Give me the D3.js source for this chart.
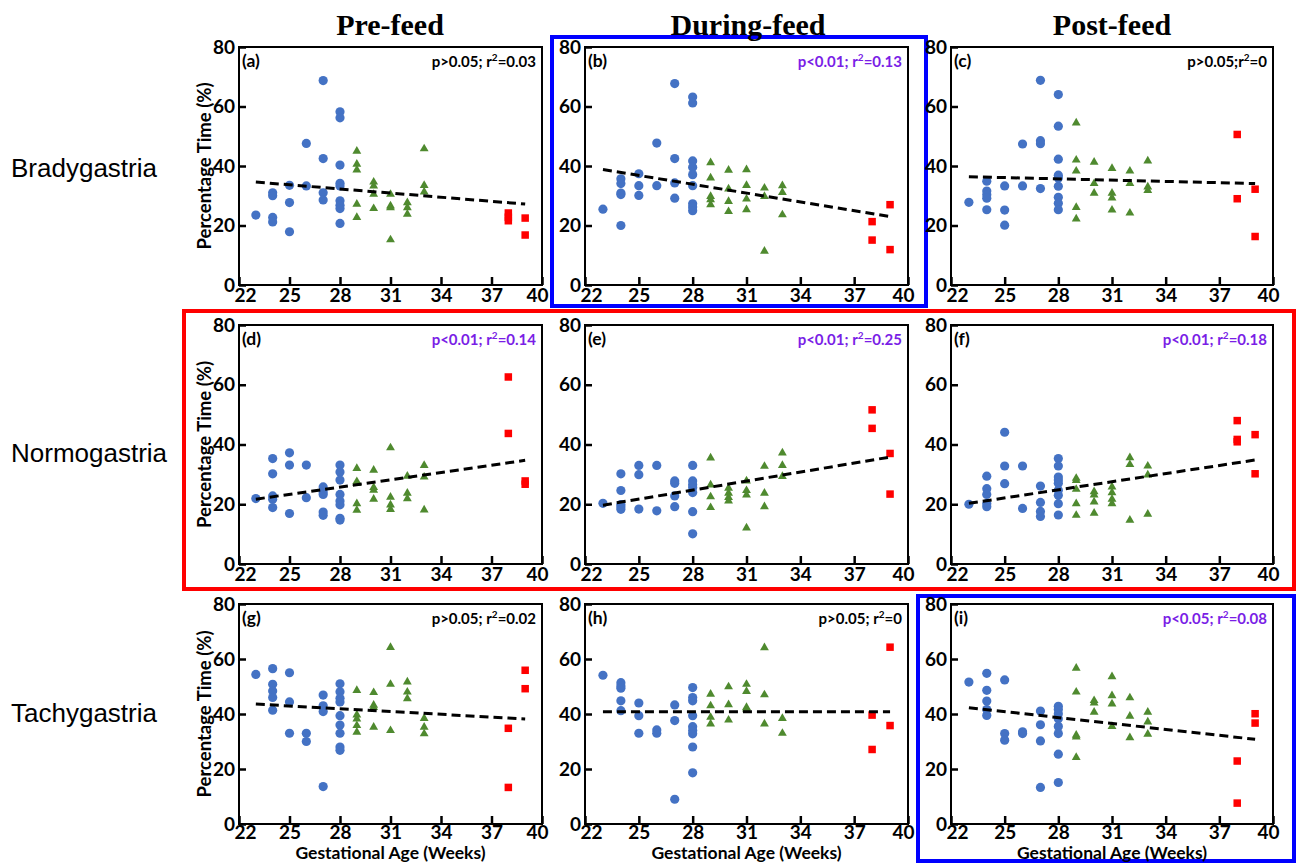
<!DOCTYPE html>
<html>
<head>
<meta charset="utf-8">
<script src="https://cdn.jsdelivr.net/npm/d3@7/dist/d3.min.js"></script>
<style>
  body { margin: 0; background: #fff; }
  svg { display: block; }
</style>
</head>
<body>
<div id="chart"></div>
<script>
// tick labels and titles
const xTicks = [22, 25, 28, 31, 34, 37, 40];
const yTicks = [0, 20, 40, 60, 80];
const columnTitles = ["Pre-feed", "During-feed", "Post-feed"];
const rowTitles = ["Bradygastria", "Normogastria", "Tachygastria"];
const panelLetters = ["(a)", "(b)", "(c)", "(d)", "(e)", "(f)", "(g)", "(h)", "(i)"];
const statP = ["p>0.05; ", "p<0.01; ", "p>0.05;", "p<0.01; ", "p<0.01; ", "p<0.01; ", "p>0.05; ", "p>0.05; ", "p<0.05; "];
const statR2 = ["0.03", "0.13", "0", "0.14", "0.25", "0.18", "0.02", "0", "0.08"];

// regression line values at first and last week
const trendWeeks = [23, 39];
const trendValues = [
  [34.6, 27.2], [38.8, 23.0], [36.4, 34.1],
  [21.7, 34.7], [19.7, 35.8], [20.3, 34.8],
  [43.6, 38.2], [40.8, 40.8], [42.3, 30.8]
];

// [gestational week, % time]
const circlesA = [[23,23.5],[24,31],[24,30],[24,22.7],[24,21.2],[25,33.5],[25,27.7],[25,17.9],[26,47.6],[26,33.3],[27,68.7],[27,42.5],[27,31],[27,28.6],[28,58.2],[28,56.2],[28,40.3],[28,34.2],[28,33.3],[28,28.3],[28,26.8],[28,25.7],[28,20.7]];
const trianglesA = [[29,45],[29,40.6],[29,38.7],[29,27.2],[29,22.7],[30,34.6],[30,33.3],[30,30.5],[30,25.7],[31,30.5],[31,26.6],[31,26],[31,15.2],[32,27.7],[32,26],[32,23.8],[33,45.8],[33,33.5],[33,31.3]];
const squaresA = [[38,24.2],[38,22.8],[38,21.6],[39,22.5],[39,16.8]];

const circlesB = [[23,25.5],[24,35.7],[24,34.1],[24,30.9],[24,30.4],[24,20],[25,37.4],[25,33.4],[25,30.1],[26,47.7],[26,33.4],[27,67.7],[27,42.5],[27,34.3],[27,29.2],[28,63.2],[28,61.2],[28,41.7],[28,39.6],[28,37.1],[28,33.4],[28,27.3],[28,26.2],[28,25]];
const trianglesB = [[29,41.1],[29,36],[29,29.8],[29,28.7],[29,27],[30,38.6],[30,32.3],[30,28.1],[30,24.7],[31,38.8],[31,33.5],[31,28.9],[31,25.3],[32,32.6],[32,29.8],[32,11.4],[33,33.4],[33,31.1],[33,23.6]];
const squaresB = [[38,21.3],[38,15.1],[39,27],[39,11.9]];

const circlesC = [[23,27.8],[24,34.9],[24,31.6],[24,30.3],[24,29.2],[24,25.3],[25,33.3],[25,25.2],[25,20.1],[26,47.4],[26,33.3],[27,68.8],[27,48.5],[27,47.5],[27,32.4],[28,64],[28,53.4],[28,42.3],[28,36.9],[28,36],[28,33.2],[28,29.5],[28,27.5],[28,25.3]];
const trianglesC = [[29,54.5],[29,42],[29,38.3],[29,26.1],[29,22.2],[30,41.3],[30,34.1],[30,30.9],[31,39.2],[31,30.9],[31,29.3],[31,25.2],[32,38.3],[32,34.1],[32,24.2],[33,41.7],[33,33],[33,31.8]];
const squaresC = [[38,50.6],[38,29],[39,32.2],[39,16.3]];

const circlesD = [[23,21.9],[24,35.3],[24,30.2],[24,22.8],[24,21.7],[24,18.9],[25,37.2],[25,33.1],[25,16.9],[26,33.1],[26,22.2],[27,25.8],[27,24.1],[27,23.3],[27,17.4],[27,16.3],[28,33.1],[28,30.8],[28,28.1],[28,23.3],[28,21.1],[28,19.8],[28,15.3],[28,14.7]];
const trianglesD = [[29,32],[29,27.6],[29,27],[29,20.2],[29,18],[30,31.4],[30,25.6],[30,24.7],[30,21.7],[31,38.9],[31,22.4],[31,19.8],[31,18.3],[32,29.4],[32,23.7],[32,21.9],[33,33],[33,29.1],[33,18.1]];
const squaresD = [[38,62.6],[38,43.7],[39,27.8],[39,26.7]];

const circlesE = [[23,20.3],[24,30.2],[24,24.6],[24,19.9],[24,19.2],[24,18.3],[25,33],[25,29.9],[25,18.4],[26,33],[26,17.8],[27,27.8],[27,27],[27,22.8],[27,19.2],[28,33],[28,27.8],[28,26.5],[28,25.6],[28,23.9],[28,17.5],[28,10.1]];
const trianglesE = [[29,35.5],[29,26.5],[29,22.5],[29,18.9],[30,25.4],[30,23.7],[30,22.3],[30,21.1],[31,27.8],[31,24.6],[31,23.1],[31,12.1],[32,32.7],[32,23.7],[32,19.2],[33,37.2],[33,33],[33,29.3]];
const squaresE = [[38,51.6],[38,45.4],[39,37],[39,23.4]];

const circlesF = [[23,20],[24,29.4],[24,25.2],[24,23.3],[24,20.2],[24,19.2],[25,44.1],[25,32.8],[25,26.9],[26,32.8],[26,18.6],[27,26.1],[27,20.6],[27,17.6],[27,15.9],[28,35.3],[28,32.8],[28,29.1],[28,28.1],[28,27],[28,24.7],[28,23],[28,20.2],[28,16.4]];
const trianglesF = [[29,28.7],[29,28],[29,25],[29,20.2],[29,16.3],[30,24.2],[30,23.1],[30,20.8],[30,17],[31,25.8],[31,23.9],[31,21.7],[31,20.2],[32,35.6],[32,33.3],[32,14.7],[33,32.8],[33,29.8],[33,16.7]];
const squaresF = [[38,48],[38,41.7],[38,40.9],[39,43.3],[39,30.2]];

const circlesG = [[23,54.4],[24,56.5],[24,50.8],[24,48.4],[24,46],[24,41.4],[25,55],[25,44.4],[25,33],[26,33],[26,30],[27,46.9],[27,43],[27,40.9],[27,13.6],[28,51],[28,48.1],[28,45.7],[28,44.4],[28,39.4],[28,36],[28,33],[28,28],[28,26.8]];
const trianglesG = [[29,48.6],[29,39.7],[29,38.2],[29,35.8],[29,33.4],[30,47.8],[30,43.2],[30,42.4],[30,35.2],[31,64.2],[31,50.8],[31,34],[32,51.7],[32,48],[32,45.6],[33,38.4],[33,35.2],[33,32.8]];
const squaresG = [[38,34.8],[38,13.3],[39,55.9],[39,49.2]];

const circlesH = [[23,54.1],[24,51.4],[24,50.2],[24,49.4],[24,44.8],[24,41.2],[25,44],[25,39.4],[25,33],[26,34.2],[26,33],[27,43.3],[27,37.6],[27,9],[28,49.6],[28,46],[28,44.8],[28,39.4],[28,35.4],[28,34],[28,32.8],[28,28],[28,18.6]];
const trianglesH = [[29,47.2],[29,43],[29,38.8],[29,36.4],[30,49.9],[30,43.4],[30,37.8],[31,50.8],[31,48.2],[31,42.4],[31,41.8],[32,64.1],[32,47],[32,36.4],[33,38.4],[33,33]];
const squaresH = [[38,39.6],[38,27.1],[39,64.3],[39,35.8]];

const circlesI = [[23,51.6],[24,54.8],[24,48.6],[24,44.7],[24,41.6],[24,39.5],[25,52.4],[25,32.9],[25,30.5],[26,33.5],[26,32.9],[27,41.1],[27,36.1],[27,30.2],[27,13.3],[28,42.8],[28,41.6],[28,40.1],[28,38.3],[28,35.5],[28,32.9],[28,25.4],[28,15.1]];
const trianglesI = [[29,56.7],[29,48],[29,32.3],[29,31.7],[29,24.2],[30,44.9],[30,44],[30,40.7],[31,53.6],[31,46.7],[31,43.7],[31,35.5],[32,45.9],[32,39.2],[32,31.4],[33,40.7],[33,37.1],[33,32.7]];
const squaresI = [[38,22.9],[38,7.6],[39,40.1],[39,36.7]];

const circleSets = [circlesA, circlesB, circlesC, circlesD, circlesE, circlesF, circlesG, circlesH, circlesI];
const triangleSets = [trianglesA, trianglesB, trianglesC, trianglesD, trianglesE, trianglesF, trianglesG, trianglesH, trianglesI];
const squareSets = [squaresA, squaresB, squaresC, squaresD, squaresE, squaresF, squaresG, squaresH, squaresI];

// layout
let width = 1301, height = 864;
let cols = [{ x0: 239, x1: 542 }, { x0: 585, x1: 908 }, { x0: 951, x1: 1273 }];
let rows = [{ y0: 47, y1: 285 }, { y0: 325, y1: 564 }, { y0: 604, y1: 824 }];
let numFont = "Lato, 'Open Sans', sans-serif";
let blue = "#4472c4", green = "#4f8a2f", red = "#ff0000", purple = "#7a1ee6";

let svg = d3.select("#chart")
  .append("svg")
  .attr("width", width)
  .attr("height", height);

svg.append("rect").attr("width", width).attr("height", height).attr("fill", "#fff");

// highlight boxes
let highlights = [
  { x0: 552, y0: 37, x1: 926, y1: 306, color: "#0000ff" },
  { x0: 184, y0: 311, x1: 1294, y1: 589, color: red },
  { x0: 918, y0: 596, x1: 1294, y1: 861, color: "#0000ff" }
];
svg.selectAll(".highlight")
  .data(highlights)
  .enter().append("rect")
  .attr("class", "highlight")
  .attr("x", d => d.x0).attr("y", d => d.y0)
  .attr("width", d => d.x1 - d.x0).attr("height", d => d.y1 - d.y0)
  .attr("fill", "none")
  .attr("stroke", d => d.color)
  .attr("stroke-width", 4);

// column titles
svg.selectAll(".col-title")
  .data(columnTitles)
  .enter().append("text")
  .attr("class", "col-title")
  .attr("x", (d, i) => [390, 748, 1112][i])
  .attr("y", 35)
  .attr("text-anchor", "middle")
  .attr("font-family", "'Liberation Serif', serif")
  .attr("font-weight", "bold")
  .attr("font-size", 30)
  .text(d => d);

// row titles
svg.selectAll(".row-title")
  .data(rowTitles)
  .enter().append("text")
  .attr("class", "row-title")
  .attr("x", 11)
  .attr("y", (d, i) => [177, 462, 722][i])
  .attr("font-family", "'Liberation Sans', Arial, sans-serif")
  .attr("font-size", 26)
  .text(d => d);

for (let p = 0; p < 9; p++) {
  let c = cols[p % 3], r = rows[Math.floor(p / 3)];
  let w = c.x1 - c.x0, h = r.y1 - r.y0;
  let bottomRow = p >= 6;

  let g = svg.append("g")
    .attr("transform", "translate(" + c.x0 + "," + r.y0 + ")");

  let x = d3.scaleLinear().domain([22, 40]).range([0, w]);
  let y = d3.scaleLinear().domain([0, 80]).range([h, 0]);

  let xAxis = g.append("g")
    .attr("transform", "translate(0," + h + ")")
    .call(d3.axisBottom(x).tickValues(xTicks).tickSizeInner(-8).tickSizeOuter(0).tickPadding(bottomRow ? 1 : 3));
  let yAxis = g.append("g")
    .call(d3.axisLeft(y).tickValues(yTicks).tickSizeInner(-7).tickSizeOuter(0).tickPadding(4));

  [xAxis, yAxis].forEach(ax => {
    ax.select(".domain").remove();
    ax.selectAll("line").attr("stroke", "#000").attr("stroke-width", 2.5);
    ax.selectAll("text")
      .attr("fill", "#000")
      .attr("font-family", numFont)
      .attr("font-weight", "bold")
      .attr("font-size", 19);
  });
  xAxis.selectAll("text")
    .attr("dx", d => d === 22 ? 6 : (d === 40 ? -5 : 0));

  g.append("rect")
    .attr("width", w).attr("height", h)
    .attr("fill", "none")
    .attr("stroke", "#000")
    .attr("stroke-width", 2);

  // markers
  g.selectAll(".dot")
    .data(circleSets[p])
    .enter().append("circle")
    .attr("cx", d => x(d[0]))
    .attr("cy", d => y(d[1]))
    .attr("r", 4.6)
    .attr("fill", blue);

  g.selectAll(".tri")
    .data(triangleSets[p])
    .enter().append("path")
    .attr("d", d3.symbol(d3.symbolTriangle).size(34))
    .attr("transform", d => "translate(" + x(d[0]) + "," + y(d[1]) + ")")
    .attr("fill", green);

  let sq = 7.5;
  g.selectAll(".sq")
    .data(squareSets[p])
    .enter().append("rect")
    .attr("x", d => x(d[0]) - sq / 2)
    .attr("y", d => y(d[1]) - sq / 2)
    .attr("width", sq).attr("height", sq)
    .attr("fill", red);

  // regression line
  let line = d3.line().x(d => x(d[0])).y(d => y(d[1]));
  g.append("path")
    .datum(trendWeeks.map((wk, i) => [wk, trendValues[p][i]]))
    .attr("d", line)
    .attr("fill", "none")
    .attr("stroke", "#000")
    .attr("stroke-width", 3)
    .attr("stroke-dasharray", "9,5");

  g.append("text")
    .attr("x", 3).attr("y", 20)
    .attr("font-family", numFont)
    .attr("font-weight", "bold")
    .attr("font-size", 17.5)
    .text(panelLetters[p]);

  let significant = statP[p].startsWith("p<");
  let stat = g.append("text")
    .attr("x", w - 6).attr("y", 20)
    .attr("text-anchor", "end")
    .attr("font-family", numFont)
    .attr("font-weight", "bold")
    .attr("font-size", 15)
    .attr("fill", significant ? purple : "#000");
  stat.append("tspan").text(statP[p] + "r");
  stat.append("tspan").attr("dy", -6).attr("font-size", 10).text("2");
  stat.append("tspan").attr("dy", 6).text("=" + statR2[p]);

  if (p % 3 === 0) {
    svg.append("text")
      .attr("transform", "translate(205," + (r.y0 + h / 2) + ") rotate(-90)")
      .attr("text-anchor", "middle")
      .attr("dy", "0.35em")
      .attr("font-family", numFont)
      .attr("font-weight", "bold")
      .attr("font-size", 18.5)
      .text("Percentage Time (%)");
  }
  if (bottomRow) {
    svg.append("text")
      .attr("x", c.x0 + w / 2)
      .attr("y", 859)
      .attr("text-anchor", "middle")
      .attr("font-family", numFont)
      .attr("font-weight", "bold")
      .attr("font-size", 17.5)
      .text("Gestational Age (Weeks)");
  }
}
</script>
</body>
</html>
